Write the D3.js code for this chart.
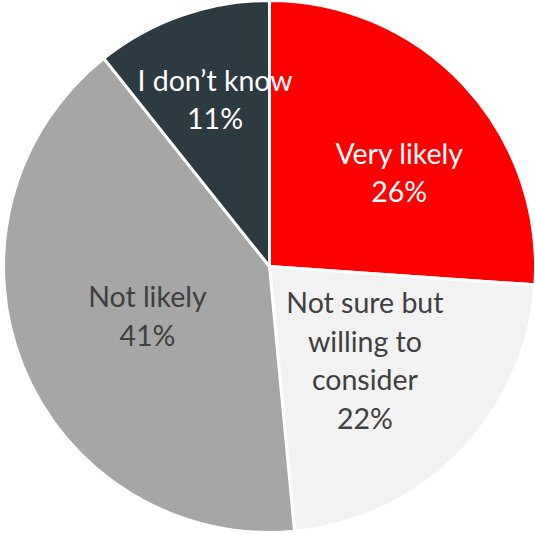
<!DOCTYPE html>
<html>
<head>
<meta charset="utf-8">
<script src="https://cdn.jsdelivr.net/npm/d3@7"></script>
<style>
  html, body { margin: 0; padding: 0; background: #fff; }
  svg { display: block; }
</style>
</head>
<body>
<div id="chart"></div>
<script>
const categories = ['Very likely', 'Not sure but willing to consider', 'Not likely', 'I don\u2019t know'];
const values = [26.1, 22.4, 40.8, 10.7];
const labelLines = [['Very likely'], ['Not sure but', 'willing to', 'consider'], ['Not likely'], ['I don\u2019t know']];

const colors = d3.scaleOrdinal()
    .domain(categories)
    .range(['#ff0000', '#f2f2f2', '#a6a6a6', '#2c3a42']);
const textColors = d3.scaleOrdinal()
    .domain(categories)
    .range(['#ffffff', '#404040', '#404040', '#ffffff']);

// nudges so labels land where the original put them
const nudge = {
    'Very likely': [20, 9],
    'Not sure but willing to consider': [-12, -10],
    'Not likely': [17, -6],
    'I don\u2019t know': [-5, -25]
};

const width = 535, height = 534;
const cx = 269.5, cy = 266.5, radius = 266;
const lineHeight = 38.5;

const data = categories.map((c, i) => ({cat: c, value: values[i], lines: labelLines[i]}));

const pie = d3.pie().sort(null).value(d => d.value);
const arc = d3.arc().innerRadius(0).outerRadius(radius);
const labelArc = d3.arc().innerRadius(150).outerRadius(150);

const svg = d3.select('#chart').append('svg')
    .attr('width', width)
    .attr('height', height);

const g = svg.append('g').attr('transform', 'translate(' + cx + ',' + cy + ')');

const arcs = pie(data);

g.selectAll('path')
    .data(arcs)
    .enter()
    .append('path')
    .attr('d', arc)
    .attr('fill', d => colors(d.data.cat))
    .attr('stroke', '#ffffff')
    .attr('stroke-width', 3)
    .attr('stroke-linejoin', 'round');

const labels = g.selectAll('text')
    .data(arcs)
    .enter()
    .append('text')
    .attr('text-anchor', 'middle')
    .attr('font-family', 'Lato, "Open Sans", sans-serif')
    .attr('font-size', 28.5)
    .attr('fill', d => textColors(d.data.cat))
    .attr('transform', d => {
        const c = labelArc.centroid(d);
        const n = nudge[d.data.cat];
        return 'translate(' + (c[0] + n[0]) + ',' + (c[1] + n[1]) + ')';
    });

labels.each(function (d) {
    const lines = d.data.lines.concat([Math.round(d.data.value) + '%']);
    const start = -(lines.length - 1) * lineHeight / 2 + 10;
    d3.select(this).selectAll('tspan')
        .data(lines)
        .enter()
        .append('tspan')
        .attr('x', 0)
        .attr('y', (l, i) => start + i * lineHeight)
        .text(l => l);
});
</script>
</body>
</html>
